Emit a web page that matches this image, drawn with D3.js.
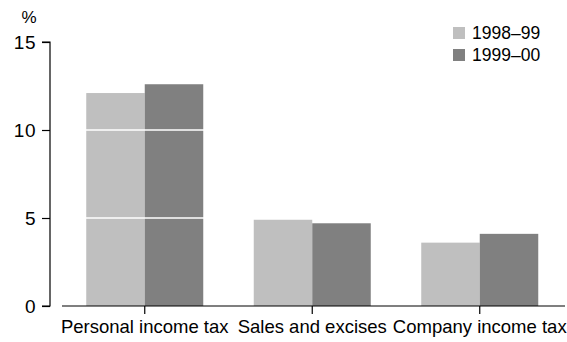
<!DOCTYPE html>
<html>
<head>
<meta charset="utf-8">
<script src="https://cdn.jsdelivr.net/npm/d3@7"></script>
<style>
body { margin: 0; background: #fff; }
text { font-family: "Liberation Sans", Arial, sans-serif; fill: #000; }
</style>
</head>
<body>
<div id="chartBox"></div>
<script>
var categories = ['Personal income tax', 'Sales and excises', 'Company income tax'];
var seriesNames = ['1998\u201399', '1999\u201300'];
var values9899 = [12.1, 4.9, 3.6];
var values9900 = [12.6, 4.7, 4.1];
var yTicks = [0, 5, 10, 15];
var colors = ['#bfbfbf', '#808080'];

var width = 567, height = 342;
var svg = d3.select('#chartBox').append('svg')
    .attr('width', width)
    .attr('height', height);

var y = d3.scaleLinear().domain([0, 15]).range([306, 42]);
var x0 = d3.scaleBand().domain(categories).range([61, 563.5]).padding(0);
var x1 = d3.scaleBand().domain(seriesNames).range([0, 117]);
var offset = (x0.bandwidth() - 117) / 2;

var rows = categories.map(function(c, i) {
    return { cat: c, vals: [values9899[i], values9900[i]] };
});

// bars
var groups = svg.append('g').selectAll('g')
    .data(rows)
    .enter()
    .append('g')
    .attr('transform', function(d) { return 'translate(' + (x0(d.cat) + offset) + ',0)'; });

groups.selectAll('rect')
    .data(function(d) { return d.vals.map(function(v, j) { return { s: seriesNames[j], v: v, j: j }; }); })
    .enter()
    .append('rect')
    .attr('x', function(d) { return x1(d.s); })
    .attr('width', x1.bandwidth())
    .attr('y', function(d) { return y(d.v); })
    .attr('height', function(d) { return y(0) - y(d.v); })
    .attr('fill', function(d) { return colors[d.j]; });

// white gridlines across bars
svg.append('g').selectAll('line')
    .data([5, 10])
    .enter()
    .append('line')
    .attr('x1', 62).attr('x2', 565)
    .attr('y1', function(d) { return y(d); })
    .attr('y2', function(d) { return y(d); })
    .attr('stroke', '#fff')
    .attr('stroke-width', 1.5);

// y axis
var yAxis = d3.axisLeft(y).tickValues(yTicks).tickSize(8).tickPadding(6).tickFormat(d3.format('d'));
var gy = svg.append('g').attr('transform', 'translate(50,0)').call(yAxis);
gy.select('.domain').attr('d', 'M-8,' + y(15) + 'H0V' + y(0) + 'H-8').attr('stroke', '#000').attr('stroke-width', 1.2);
gy.selectAll('.tick line').attr('stroke', '#000').attr('stroke-width', 1.2);
gy.selectAll('.tick text')
    .style('font-size', '19px')
    .style('letter-spacing', '0.5px')
    .style('font-family', '"Liberation Sans", Arial, sans-serif')
    .attr('dy', '0.35em');

svg.append('text')
    .text('%')
    .attr('x', 29)
    .attr('y', 23)
    .attr('text-anchor', 'middle')
    .style('font-size', '17px');

// x axis
var xAxis = d3.axisBottom(x0).tickSize(8).tickPadding(6).tickSizeOuter(0);
var gx = svg.append('g').attr('transform', 'translate(0,306)').call(xAxis);
gx.select('.domain').attr('d', 'M62,0H565').attr('stroke', '#000').attr('stroke-width', 1.2);
gx.selectAll('.tick line').attr('stroke', '#000').attr('stroke-width', 1.2);
gx.selectAll('.tick text')
    .style('font-size', '18.5px')
    .style('font-family', '"Liberation Sans", Arial, sans-serif');

// legend
var legend = svg.append('g').selectAll('g')
    .data(seriesNames)
    .enter()
    .append('g')
    .attr('transform', function(d, i) { return 'translate(453,' + (27 + i * 22) + ')'; });

legend.append('rect')
    .attr('width', 12)
    .attr('height', 12)
    .attr('fill', function(d, i) { return colors[i]; });

legend.append('text')
    .text(function(d) { return d; })
    .attr('x', 19)
    .attr('y', 12)
    .style('font-size', '17.5px');
</script>
</body>
</html>
